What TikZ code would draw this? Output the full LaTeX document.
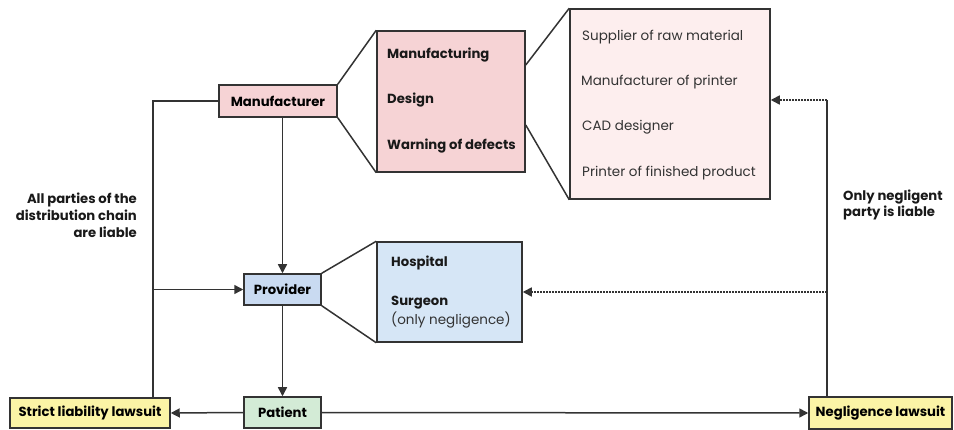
\documentclass[tikz,border=0pt]{standalone}
\usepackage{fontspec}
\setmainfont{Poppins}
\usetikzlibrary{arrows.meta,calc}
\definecolor{edge}{HTML}{333333}
\definecolor{pinkA}{HTML}{F6D3D5}
\definecolor{pinkB}{HTML}{FDEEEE}
\definecolor{blueA}{HTML}{C9DAF1}
\definecolor{blueB}{HTML}{D6E6F6}
\definecolor{greenA}{HTML}{D3EBD6}
\definecolor{yellowA}{HTML}{FBF4A6}
\begin{document}
\begin{tikzpicture}[x=1pt,y=-1pt,
  box/.style={draw=edge,line width=1.5pt,rectangle,inner sep=0pt,font=\fontsize{13.2}{15}\selectfont\bfseries},
  bold/.style={font=\fontsize{13.2}{15}\selectfont\bfseries,inner sep=0pt,text=black!90},
  plain/.style={font=\fontsize{13.5}{15}\selectfont,inner sep=0pt,text=black!80},
  conn/.style={draw=edge,line width=1.5pt},
  arr/.style={conn,-{Triangle[length=9pt,width=9pt]}},
  dotarr/.style={conn,line width=1.6pt,dash pattern=on 1.6pt off 1.4pt,-{Triangle[length=9pt,width=9pt]}}]
\useasboundingbox (0,0) rectangle (954,430);
% boxes
\node[box,fill=pinkA,minimum width=118pt,minimum height=32pt] (man) at (278,101) {Manufacturer};
\node[box,fill=pinkA,minimum width=148pt,minimum height=141pt] (mbig) at (451,101.5) {};
\node[box,fill=pinkB,minimum width=200pt,minimum height=190pt] (mlist) at (670,104) {};
\node[box,fill=blueA,minimum width=77pt,minimum height=31pt] (prov) at (282.5,289.5) {Provider};
\node[box,fill=blueB,minimum width=145pt,minimum height=100pt] (pbig) at (449.5,292) {};
\node[box,fill=greenA,minimum width=77pt,minimum height=31pt] (pat) at (282.5,412.5) {Patient};
\node[box,fill=yellowA,minimum width=160pt,minimum height=30pt] (strict) at (90,413) {Strict liability lawsuit};
\node[box,fill=yellowA,minimum width=143pt,minimum height=32pt] (negl) at (880.5,413) {Negligence lawsuit};
% texts in boxes
\node[bold,anchor=west] (t1) at (387,55) {Manufacturing};
\node[bold,anchor=west] (t2) at (387,100) {Design};
\node[bold,anchor=west] (t3) at (387,146) {Warning of defects};
\node[plain,anchor=west] (s1) at (582,37) {Supplier of raw material};
\node[plain,anchor=west] (s2) at (581,82) {Manufacturer of printer};
\node[plain,anchor=west] (s3) at (582,127) {CAD designer};
\node[plain,anchor=west] (s4) at (582,173) {Printer of finished product};
\node[bold,anchor=west] (h1) at (391,263) {Hospital};
\node[bold,anchor=west] (h2) at (391,303) {Surgeon};
\node[plain,anchor=west] (h3) at (391,320) {(only negligence)};
% labels
\node[bold,align=right,anchor=east,font=\fontsize{13.2}{17}\selectfont\bfseries] (lab1) at (137,215) {All parties of the\\distribution chain\\are liable};
\node[bold,align=left,anchor=west,font=\fontsize{13.2}{16}\selectfont\bfseries] (lab2) at (843,205) {Only negligent\\party is liable};
% fan lines
\draw[conn] (man.north east) -- (mbig.north west);
\draw[conn] (man.south east) -- (mbig.south west);
\draw[conn] ([yshift=36.5pt]mbig.east) -- (mlist.north west);
\draw[conn] ([yshift=-23.5pt]mbig.east) -- (mlist.south west);
\draw[conn] (prov.north east) -- (pbig.north west);
\draw[conn] (prov.south east) -- (pbig.south west);
% connectors
\coordinate (lc) at (153,101);
\coordinate (rc) at (827,100);
\draw[conn] (man.west) -- (lc) -- (lc |- strict.north);
\draw[arr] (lc |- prov.west) -- (prov.west);
\draw[arr] (prov.north |- man.south) -- (prov.north);
\draw[arr] (prov.south) -- (pat.north);
\draw[arr] (pat.west) -- (strict.east);
\draw[arr] (pat.east) -- (negl.west);
\draw[conn] (rc |- negl.north) -- (rc);
\draw[dotarr] (rc) -- (rc -| mlist.east);
\draw[dotarr] (rc |- pbig.east) -- (pbig.east);
\end{tikzpicture}
\end{document}
